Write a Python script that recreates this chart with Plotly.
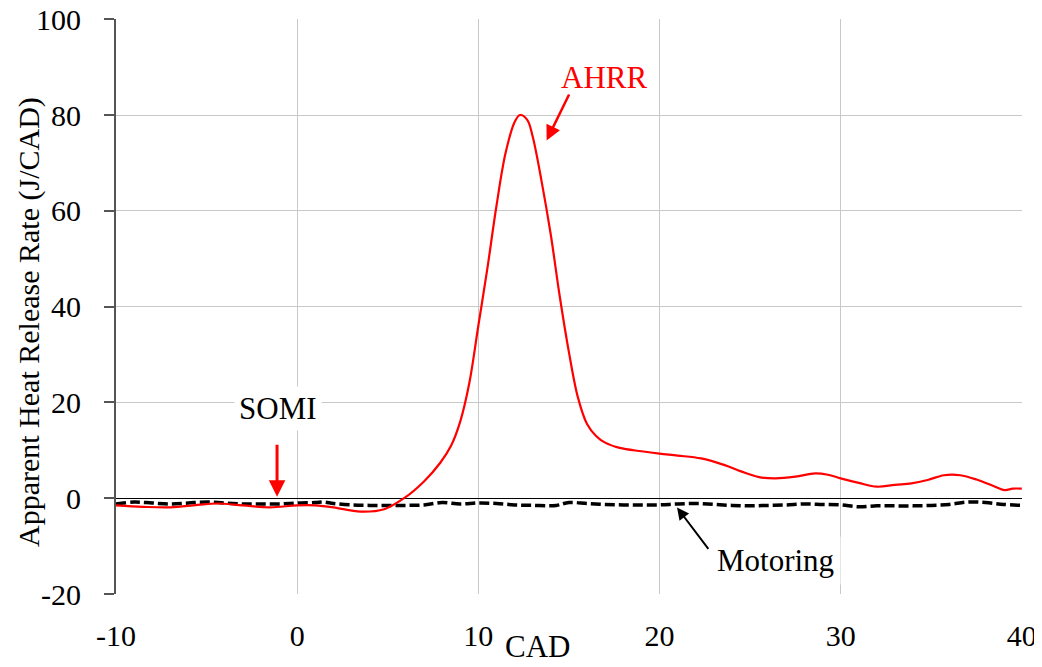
import plotly.graph_objects as go

# ---- data ----
ahrr_cad = [-10, -8.5, -7, -5.5, -4.4, -3, -1.5, 0, 1, 2, 3.5, 4.8, 5.9, 7, 7.9, 8.5, 9, 9.5,
            10, 10.5, 11, 11.5, 12, 12.3, 12.7, 13, 13.5, 14, 14.5, 15, 15.5, 16, 16.5, 17,
            17.8, 19, 20, 21, 22.3, 23.6, 24.5, 25.5, 26.4, 27.5, 28.6, 29.3, 30, 31, 32, 33,
            33.9, 34.8, 35.7, 36.6, 37.5, 38.4, 39.05, 39.5, 40]
ahrr_val = [-1.5, -1.8, -1.9, -1.4, -1.1, -1.5, -1.9, -1.5, -1.5, -1.9, -2.8, -2.3, 0, 3.5, 7.4,
            11, 16, 24, 36, 48, 61, 72, 78.5, 80, 79, 75.5, 66, 55, 42, 30.5, 21, 15.5, 13, 11.6,
            10.5, 9.8, 9.3, 8.9, 8.3, 6.9, 5.6, 4.4, 4.15, 4.5, 5.2, 4.9, 4.15, 3.2, 2.4, 2.8,
            3.1, 3.8, 4.8, 4.8, 3.9, 2.6, 1.7, 2.0, 2.0]

mot_cad = [-10, -9, -8, -7, -6, -5, -4, -3, -2, -1, 0, 1, 1.5, 2, 3, 4, 5, 6, 7, 8, 9, 10, 11,
           12, 13, 14.3, 15, 16, 17, 18, 19, 20, 21, 22, 23, 24, 25, 26, 27, 28, 29, 30, 31, 32,
           33, 34, 35, 36, 37, 38, 39, 40]
mot_val = [-1.2, -0.8, -1.0, -1.2, -1.0, -0.8, -1.0, -1.2, -1.2, -1.2, -1.0, -0.9, -0.8, -1.1,
           -1.4, -1.5, -1.5, -1.5, -1.4, -0.9, -1.2, -1.0, -1.1, -1.4, -1.5, -1.5, -0.9, -1.1,
           -1.3, -1.4, -1.4, -1.4, -1.2, -1.1, -1.3, -1.5, -1.6, -1.5, -1.4, -1.2, -1.3, -1.4,
           -1.8, -1.6, -1.6, -1.6, -1.5, -1.3, -0.8, -0.9, -1.3, -1.5]

x_ticks = [-10, 0, 10, 20, 30, 40]
x_ticktext = ["-10", "0", "10", "20", "30", "40"]
y_ticks = [-20, 0, 20, 40, 60, 80, 100]
y_ticktext = ["-20", "0", "20", "40", "60", "80", "100"]

FONT = "Liberation Serif, Times New Roman, serif"
FS_TICK = 30
FS_TXT = 31

# the page adds an 8px body margin, so the figure is drawn 8px smaller
OFF = 8
W, H = 1042 - OFF, 667 - OFF
ML, MR, MT, MB = 116 - OFF, 20, 19 - OFF, 73
plot_w = W - ML - MR
plot_h = H - MT - MB


def px_to_paper(px, py):
    """page pixel -> paper coords"""
    fx, fy = px - OFF, py - OFF
    return (fx - ML) / plot_w, (H - MB - fy) / plot_h


fig = go.Figure()
fig.add_trace(go.Scatter(x=mot_cad, y=mot_val, mode="lines", line_shape="spline",
                         line=dict(color="black", width=3.5, dash="10px,4px"), name="Motoring"))
fig.add_trace(go.Scatter(x=ahrr_cad, y=ahrr_val, mode="lines", line_shape="spline",
                         line=dict(color="#ff0000", width=2.2), name="AHRR"))

fig.update_layout(
    width=W, height=H,
    margin=dict(l=ML, r=MR, t=MT, b=MB),
    plot_bgcolor="white", paper_bgcolor="white",
    showlegend=False,
    font=dict(family=FONT, size=FS_TXT, color="black"),
    xaxis=dict(range=[-10, 40.01], tickvals=x_ticks, ticktext=x_ticktext, showgrid=True,
               gridcolor="#c8c8c8", gridwidth=1, showline=False, zeroline=False, ticks="",
               ticklabelstandoff=21, tickfont=dict(size=FS_TICK), automargin=False,
               ticklabeloverflow="allow"),
    yaxis=dict(range=[-20, 100.05], tickvals=y_ticks, ticktext=y_ticktext, showgrid=True,
               gridcolor="#c8c8c8", gridwidth=1, showline=True, linecolor="#555555",
               linewidth=2, ticks="outside", ticklen=10, tickcolor="#555555", tickwidth=1.5,
               zeroline=True, zerolinecolor="black", zerolinewidth=1.2,
               ticklabelstandoff=17, tickfont=dict(size=FS_TICK), automargin=False,
               ticklabeloverflow="allow"),
)

cad_x, cad_y = px_to_paper(537, 666)
yt_x, yt_y = px_to_paper(29, 322)

annos = [
    dict(x=cad_x, y=cad_y, xref="paper", yref="paper", text="CAD",
         showarrow=False, yanchor="bottom", xanchor="center", font=dict(size=FS_TXT)),
    dict(x=yt_x, y=yt_y, xref="paper", yref="paper", xanchor="center", yanchor="middle",
         text="Apparent Heat Release Rate (J/CAD)", showarrow=False, textangle=-90,
         font=dict(size=30)),
    dict(x=-1.06, y=18.8, text="SOMI", showarrow=False, bgcolor="white",
         font=dict(size=FS_TXT), borderpad=4),
    dict(x=-1.11, y=0.3, ax=-1.11, ay=11.5, axref="x", ayref="y", text="",
         showarrow=True, arrowhead=2, arrowsize=1.1, arrowwidth=3, arrowcolor="#ff0000"),
    dict(x=16.93, y=87.9, text="AHRR", showarrow=False, bgcolor="white",
         font=dict(size=FS_TXT, color="#ff0000"), borderpad=4),
    dict(x=13.77, y=74.7, ax=15.05, ay=84.6, axref="x", ayref="y", text="",
         showarrow=True, arrowhead=2, arrowsize=1.2, arrowwidth=2.5, arrowcolor="#ff0000"),
    dict(x=26.4, y=-13.0, text="Motoring", showarrow=False, bgcolor="white",
         font=dict(size=FS_TXT), borderpad=6),
    dict(x=20.97, y=-1.94, ax=22.76, ay=-10.9, axref="x", ayref="y", text="",
         showarrow=True, arrowhead=2, arrowsize=1.2, arrowwidth=2, arrowcolor="black"),
]
fig.update_layout(annotations=annos)

fig.write_html("out.html")
